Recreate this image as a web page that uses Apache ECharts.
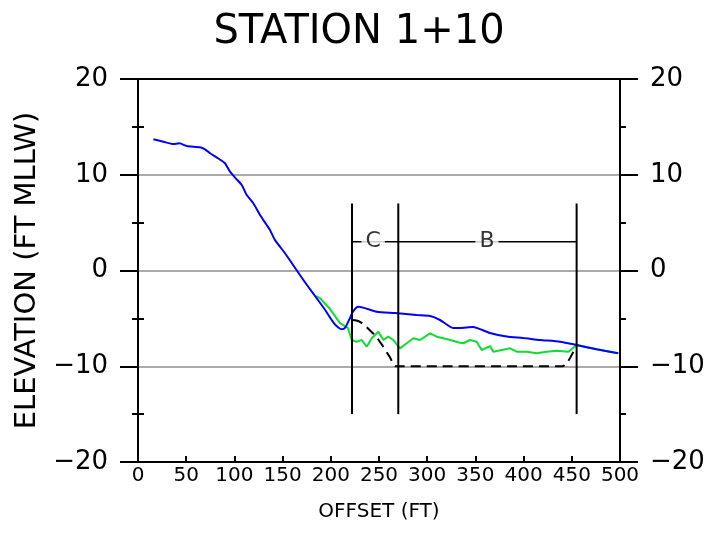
<!DOCTYPE html>
<html>
<head>
<meta charset="utf-8">
<script src="https://cdn.jsdelivr.net/npm/echarts@6/dist/echarts.min.js"></script>
<style>
  html, body { margin: 0; padding: 0; background: #fff; }
  #chart { width: 718px; height: 539px; }
</style>
</head>
<body>
<div id="chart"></div>
<script>
// measured profile (blue)
var profileOffset = [15.9, 26.3, 36.6, 42.9, 50.5, 64.3, 69.5, 74.7, 83.3, 90.2, 95.4, 102.4, 107.6, 112.8, 119.6, 126.6, 133.5, 136.9, 142, 152.5, 163, 173, 183.6, 194, 204, 211.3, 214.7, 219.9, 223, 228.2, 234.4, 247.6, 266.6, 289, 303, 313.3, 326.8, 334, 347.5, 365, 382.5, 399.4, 417, 437.8, 455, 475.8, 498.2];
var profileElev = [13.7, 13.45, 13.2, 13.28, 13.0, 12.87, 12.66, 12.24, 11.7, 11.2, 10.32, 9.52, 8.93, 7.88, 7.02, 5.8, 4.75, 4.23, 3.2, 1.8, 0.26, -1.2, -2.66, -4.1, -5.6, -6.14, -6.0, -4.96, -4.3, -3.78, -3.9, -4.3, -4.44, -4.65, -4.75, -5.17, -6.0, -6.0, -5.9, -6.53, -6.9, -7.05, -7.26, -7.44, -7.78, -8.23, -8.65];

// after-dredge survey (green)
var surveyOffset = [184.6, 188.8, 199, 209.5, 217.8, 221.7, 226.9, 232, 237.2, 242.4, 249.3, 254.5, 259.6, 264.8, 271.8, 278.7, 285.6, 292.5, 302.9, 309.9, 316.7, 323.7, 334, 337.4, 344.4, 351.3, 356.5, 365.1, 368.6, 377.3, 385.9, 392.8, 403.2, 413.6, 424, 434.3, 446.4, 455, 475.8, 498.2];
var surveyElev = [-2.66, -2.9, -4.0, -5.5, -6.0, -7.26, -7.44, -7.26, -7.96, -7.08, -6.39, -7.26, -6.91, -7.26, -8.13, -7.6, -7.08, -7.26, -6.56, -6.91, -7.08, -7.26, -7.54, -7.6, -7.26, -7.44, -8.3, -7.9, -8.48, -8.3, -8.13, -8.48, -8.48, -8.65, -8.48, -8.38, -8.48, -7.78, -8.23, -8.65];

// design template (dashed)
var designOffset = [223, 229, 235, 241, 247, 254, 261, 268, 440, 446, 455];
var designElev = [-5.17, -5.3, -5.7, -6.3, -6.9, -7.9, -9.0, -10, -10, -9.5, -7.8];

// reach boundaries
var boundaryOffset = [222, 270, 455];
var boundaryTop = 7;
var boundaryBottom = -15;
var bracketElev = 3;
var reachNames = ['C', 'B'];
var reachLabelOffset = [244, 362];

var xTicks = [0, 500, 50];
var yTicks = [-20, 20, 10];

function pairs(xs, ys) {
  return xs.map(function (x, i) { return [x, ys[i]]; });
}
function minusSign(v) {
  return String(v).replace('-', '\u2212');
}

var fontFam = '"DejaVu Sans", "Liberation Sans", sans-serif';
var black = '#000';

var series = [];
series.push({
  name: 'profile', type: 'line', data: pairs(profileOffset, profileElev),
  showSymbol: false, smooth: 0.2, lineStyle: { color: '#0000ff', width: 2 }, z: 4
});
series.push({
  name: 'survey', type: 'line', data: pairs(surveyOffset, surveyElev),
  showSymbol: false, lineStyle: { color: '#11dd33', width: 2 }, z: 3
});
series.push({
  name: 'design', type: 'line', data: pairs(designOffset, designElev),
  showSymbol: false, smooth: 0.3, lineStyle: { color: black, width: 2, type: [10, 6] }, z: 2
});
boundaryOffset.forEach(function (b, i) {
  series.push({
    name: 'bound' + i, type: 'line', data: [[b, boundaryBottom], [b, boundaryTop]],
    showSymbol: false, lineStyle: { color: black, width: 2 }, z: 5
  });
});
series.push({
  name: 'bracket', type: 'line',
  data: [[boundaryOffset[0], bracketElev], [boundaryOffset[boundaryOffset.length - 1], bracketElev]],
  showSymbol: false, lineStyle: { color: black, width: 1.5 }, z: 5
});
series.push({
  name: 'reach', type: 'scatter',
  data: reachLabelOffset.map(function (x, i) { return { value: [x, bracketElev], name: reachNames[i] }; }),
  symbolSize: 0, z: 6,
  label: {
    show: true, position: 'inside', formatter: '{b}', color: black,
    fontFamily: fontFam, fontSize: 22, backgroundColor: '#fff', padding: [0, 4]
  }
});

var chart = echarts.init(document.getElementById('chart'), null, { renderer: 'canvas' });
chart.setOption({
  animation: false,
  backgroundColor: '#fff',
  title: {
    text: 'STATION 1+10', left: 'center', top: 8,
    textStyle: { fontFamily: fontFam, fontSize: 40, fontWeight: 'normal', color: black }
  },
  grid: { left: 138, right: 98, top: 79, bottom: 77 },
  xAxis: [{
    type: 'value', position: 'bottom', min: xTicks[0], max: xTicks[1], interval: xTicks[2],
    name: 'OFFSET (FT)', nameLocation: 'middle', nameGap: 40,
    nameTextStyle: { fontFamily: fontFam, fontSize: 20, color: black },
    axisLine: { show: true, onZero: false, lineStyle: { color: black, width: 2 } },
    axisTick: { show: true, inside: true, length: 6, lineStyle: { color: black, width: 2 } },
    axisLabel: { fontFamily: fontFam, fontSize: 20, color: black, margin: 4 },
    splitLine: { show: false }
  }, {
    type: 'value', position: 'top', min: xTicks[0], max: xTicks[1], interval: xTicks[2],
    axisLine: { show: true, onZero: false, lineStyle: { color: black, width: 2 } },
    axisTick: { show: false }, axisLabel: { show: false }, splitLine: { show: false }
  }],
  yAxis: [{
    type: 'value', position: 'left', min: yTicks[0], max: yTicks[1], interval: yTicks[2],
    name: 'ELEVATION (FT MLLW)', nameLocation: 'middle', nameGap: 93, nameRotate: 90,
    nameTextStyle: { fontFamily: fontFam, fontSize: 29, color: black },
    axisLine: { show: true, onZero: false, lineStyle: { color: black, width: 2 } },
    axisTick: { show: true, length: 18, lineStyle: { color: black, width: 2 } },
    minorTick: { show: true, splitNumber: 2, length: 6, lineStyle: { color: black, width: 2 } },
    axisLabel: { fontFamily: fontFam, fontSize: 26, color: black, margin: 30, formatter: minusSign },
    splitLine: { show: true, lineStyle: { color: '#aaaaaa', width: 2 } }
  }, {
    type: 'value', position: 'right', min: yTicks[0], max: yTicks[1], interval: yTicks[2],
    axisLine: { show: true, onZero: false, lineStyle: { color: black, width: 2 } },
    axisTick: { show: true, length: 18, lineStyle: { color: black, width: 2 } },
    minorTick: { show: true, splitNumber: 2, length: 6, lineStyle: { color: black, width: 2 } },
    axisLabel: { fontFamily: fontFam, fontSize: 26, color: black, margin: 30, formatter: minusSign },
    splitLine: { show: false }
  }, {
    type: 'value', position: 'left', min: yTicks[0], max: yTicks[1], interval: yTicks[2],
    axisLine: { show: false }, axisTick: { show: false, inside: true },
    minorTick: { show: true, splitNumber: 2, length: 6, lineStyle: { color: black, width: 2 } },
    axisLabel: { show: false }, splitLine: { show: false }
  }, {
    type: 'value', position: 'right', min: yTicks[0], max: yTicks[1], interval: yTicks[2],
    axisLine: { show: false }, axisTick: { show: false, inside: true },
    minorTick: { show: true, splitNumber: 2, length: 6, lineStyle: { color: black, width: 2 } },
    axisLabel: { show: false }, splitLine: { show: false }
  }],
  series: series
});
</script>
</body>
</html>
